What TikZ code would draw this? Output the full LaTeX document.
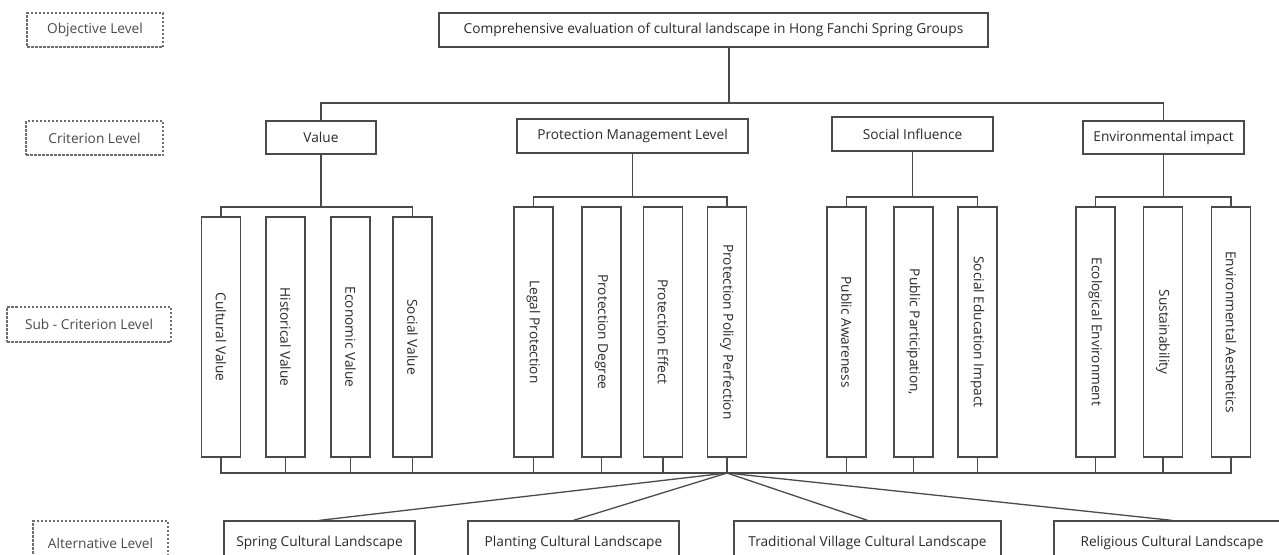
\documentclass[tikz,border=0pt]{standalone}
\usepackage{fontspec}
\setmainfont{Open Sans}
\definecolor{linegray}{HTML}{4A4A4A}
\definecolor{textgray}{HTML}{2A2A2A}
\begin{document}
\begin{tikzpicture}[x=1pt,y=-1pt,
  font=\fontsize{13.7}{16}\selectfont,
  box/.style={draw=linegray,line width=1.3pt,text=textgray,inner sep=0pt},
  lvl/.style={draw=linegray!80,line width=1.3pt,dash pattern=on 2.5pt off 1.5pt,text=textgray!85,inner sep=0pt},
  sub/.style={box,rotate=-90,minimum width=250,minimum height=39},
  wire/.style={draw=linegray,line width=1.3pt}]
\useasboundingbox (0,0) rectangle (1279,554);
\clip (0,0) rectangle (1279,554);

% level labels
\node[lvl,minimum width=136,minimum height=34] (objlvl) at (95,30) {Objective Level};
\node[lvl,minimum width=137,minimum height=34] (critlvl) at (94.5,138) {Criterion Level};
\node[lvl,minimum width=164,minimum height=35] (sublvl) at (89,324.5) {Sub - Criterion Level};
\node[lvl,minimum width=135,minimum height=44] (altlvl) at (100.5,543) {Alternative Level};

% objective and criteria
\node[box,minimum width=549,minimum height=34] (goal) at (713.5,30) {Comprehensive evaluation of cultural landscape in Hong Fanchi Spring Groups};
\node[box,minimum width=110,minimum height=33] (value) at (321,137.5) {Value};
\node[box,minimum width=231,minimum height=34] (pml) at (632.5,136) {Protection Management Level};
\node[box,minimum width=161,minimum height=34] (si) at (912.5,134) {Social Influence};
\node[box,minimum width=161,minimum height=33] (ei) at (1163.5,137.5) {Environmental impact};

% sub-criteria
\node[sub,minimum width=240] (cv) at (221,337) {Cultural Value};
\node[sub,minimum width=240] (hv) at (285.5,337) {Historical Value};
\node[sub,minimum width=240] (ev) at (350.5,337) {Economic Value};
\node[sub,minimum width=240] (sv) at (412.5,337) {Social Value};
\node[sub] (lp) at (533.5,332) {Legal Protection};
\node[sub] (pd) at (601.5,332) {Protection Degree};
\node[sub] (pe) at (663,332) {Protection Effect};
\node[sub] (ppp) at (727,332) {Protection Policy Perfection};
\node[sub] (pa) at (846.5,332) {Public Awareness};
\node[sub] (pp) at (913.5,332) {Public Participation,};
\node[sub] (sei) at (977.5,332) {Social Education Impact};
\node[sub] (ee) at (1095.5,332) {Ecological Environment};
\node[sub] (su) at (1163,332) {Sustainability};
\node[sub] (ea) at (1231,332) {Environmental Aesthetics};

% alternatives
\node[box,minimum width=191,minimum height=44] (spring) at (319.5,543) {Spring Cultural Landscape};
\node[box,minimum width=211,minimum height=44] (plant) at (573.5,543) {Planting Cultural Landscape};
\node[box,minimum width=267,minimum height=44] (trad) at (867.5,543) {Traditional Village Cultural Landscape};
\node[box,minimum width=236,minimum height=44] (relig) at (1172,543) {Religious Cultural Landscape};

\coordinate (hub) at (729,103);
\coordinate (vhub) at (321,207);
\coordinate (phub) at (632.5,197);
\coordinate (shub) at (912.5,197);
\coordinate (ehub) at (1163.5,197);
\coordinate (fan) at (727,473);

\path[wire] (goal.south -| hub) -- (hub);
\path[wire] (value.north) |- (hub) -| (ei.north);

\path[wire] (value.south) -- (vhub);
\path[wire] (cv.west) |- (vhub) -| (sv.west);
\path[wire] (pml.south) -- (phub);
\path[wire] (lp.west) |- (phub) -| (ppp.west);
\path[wire] (si.south) -- (shub);
\path[wire] (pa.west) |- (shub) -| (sei.west);
\path[wire] (ei.south) -- (ehub);
\path[wire] (ee.west) |- (ehub) -| (ea.west);

\path[wire] (cv.east) |- (fan) -| (ea.east);
\path[wire] (hv.east) -- (hv.east |- fan);
\path[wire] (ev.east) -- (ev.east |- fan);
\path[wire] (sv.east) -- (sv.east |- fan);
\path[wire] (lp.east) -- (lp.east |- fan);
\path[wire] (pd.east) -- (pd.east |- fan);
\path[wire] (pe.east) -- (pe.east |- fan);
\path[wire] (ppp.east) -- (fan);
\path[wire] (pa.east) -- (pa.east |- fan);
\path[wire] (pp.east) -- (pp.east |- fan);
\path[wire] (sei.east) -- (sei.east |- fan);
\path[wire] (ee.east) -- (ee.east |- fan);
\path[wire] (su.east) -- (su.east |- fan);

\path[wire] (fan) -- (spring.north);
\path[wire] (fan) -- (plant.north);
\path[wire] (fan) -- (trad.north);
\path[wire] (fan) -- (relig.north);
\end{tikzpicture}
\end{document}
